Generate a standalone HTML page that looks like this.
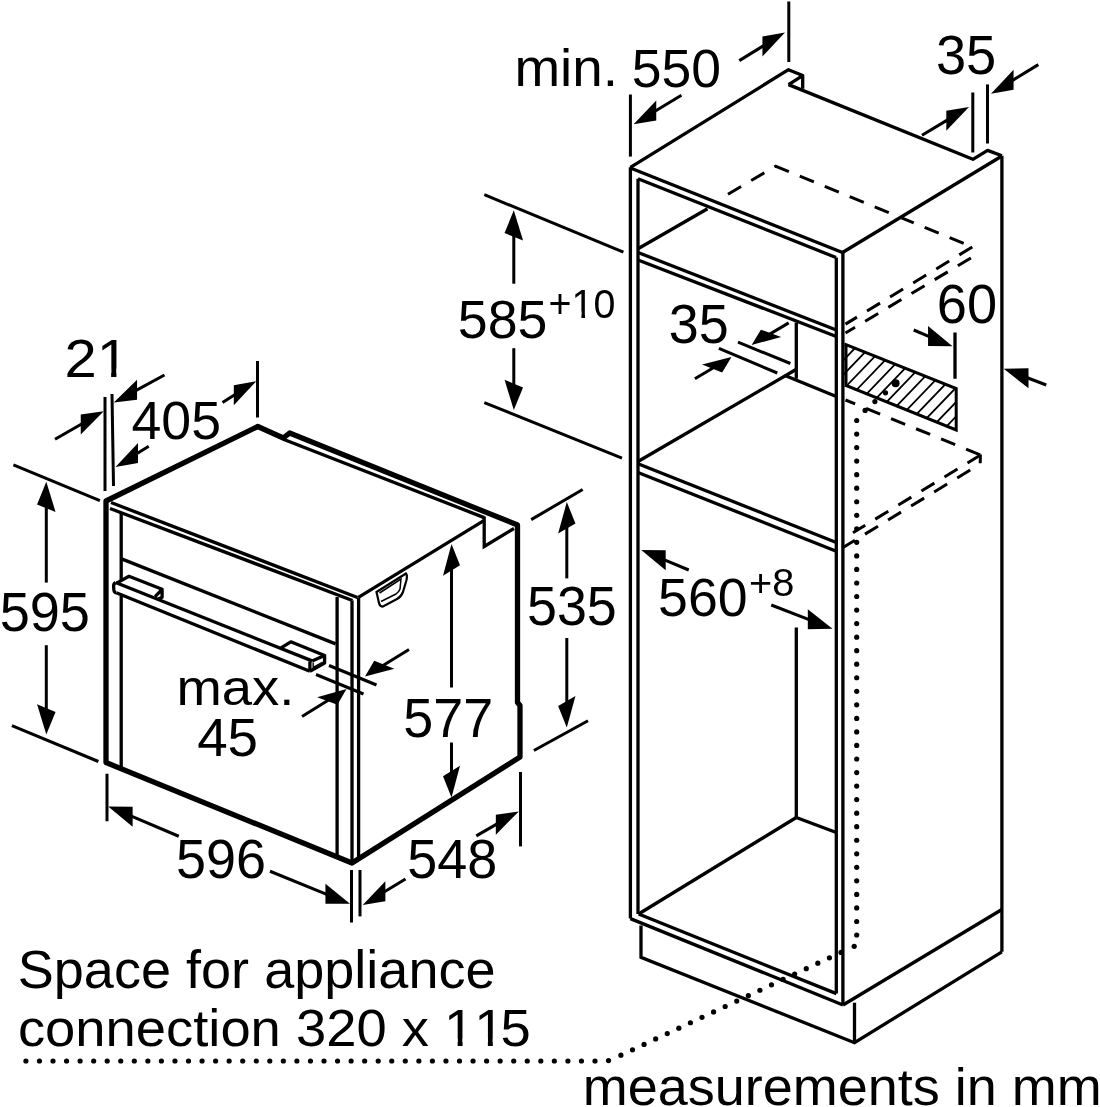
<!DOCTYPE html>
<html><head><meta charset="utf-8"><style>
html,body{margin:0;padding:0;background:#fff;}
svg{display:block;}
text{font-family:"Liberation Sans",sans-serif;fill:#000;stroke:none;}
svg{-webkit-font-smoothing:antialiased;filter:grayscale(1);}
</style></head><body>
<svg width="1100" height="1107" viewBox="0 0 1100 1107" stroke="#000" fill="none" stroke-linecap="butt">
<rect width="1100" height="1107" fill="#fff" stroke="none"/>
<path d="M106,501 L106,762.5 L352,863 L520,757 L520,705.5 L517.5,702.5 L517.5,525 L289.6,433 L283.3,438 L257.8,426.5 Z" stroke-width="5.3" fill="none" stroke-linejoin="round"/>
<line x1="111" y1="502.5" x2="357.5" y2="597.5" stroke-width="3.3"/>
<line x1="110" y1="508.5" x2="352.5" y2="600.5" stroke-width="3.3"/>
<line x1="337.1" y1="597" x2="337.1" y2="857" stroke-width="3.3"/>
<line x1="352" y1="600.5" x2="352" y2="863" stroke-width="3.3"/>
<line x1="358.6" y1="597.5" x2="358.6" y2="859" stroke-width="3.3"/>
<line x1="358.4" y1="597.3" x2="484.2" y2="520.3" stroke-width="3.3"/>
<path d="M484.2,516.5 L484.2,546.5 L514,528.5" stroke-width="3.3" fill="none"/>
<line x1="283.3" y1="439.2" x2="484.2" y2="517.6" stroke-width="3.3"/>
<line x1="121.2" y1="512" x2="121.2" y2="580" stroke-width="3.3"/>
<line x1="121.2" y1="596" x2="121.2" y2="768.5" stroke-width="3.3"/>
<line x1="121.6" y1="558.9" x2="335.6" y2="643.9" stroke-width="3.3"/>
<line x1="115.6" y1="582.5" x2="312.1" y2="660.9" stroke-width="3.3"/>
<line x1="116.3" y1="592.8" x2="309.9" y2="671.3" stroke-width="3.3"/>
<path d="M115.6,582.5 Q113.3,583.6 113.6,587 L113.9,590 Q114.3,592.6 116.3,592.8" stroke-width="3.3" fill="none"/>
<path d="M117.5,582.6 L129,576.3 L162.1,589.3 L162.1,597.3 L158,599.3 M155.1,596.6 L162.1,589.3" stroke-width="3.3" fill="none" stroke-linejoin="round"/>
<path d="M281,647.8 L290.8,641.8 L324.6,655.5 L324.6,663.1 L309.9,671.3 M309.9,661.5 L309.9,671.3 M312.1,660.9 L324.6,655.5" stroke-width="3.3" fill="none" stroke-linejoin="round"/>
<path d="M313.2,662.5 L313.2,667.3 L322.8,662" stroke-width="1.4" fill="none"/>
<path d="M376.5,592 L406,573.5 Q407.5,575 406.5,580 L403,592 Q401,597 397,599 L383,606.5 Q380,607 379,603 Z" stroke-width="2.2" fill="none"/>
<path d="M379.5,593 L401,579 L400,589 Q399,592 396,594 L381,601.5" stroke-width="1.5" fill="none"/>
<line x1="105" y1="397" x2="105" y2="491" stroke-width="3"/>
<line x1="112" y1="394" x2="113.5" y2="486" stroke-width="3"/>
<line x1="82.5" y1="423.45" x2="55" y2="439.25" stroke-width="3"/>
<path d="M103.75,411.25 L80.77,434.45 L80.77,414.45 Z" fill="#000" stroke="none"/>
<line x1="135.29" y1="390.83" x2="164.5" y2="375" stroke-width="3"/>
<path d="M113.75,402.5 L137.05,399.87 L137.05,379.87 Z" fill="#000" stroke="none"/>
<g transform="translate(64.4,376.6) scale(1.0761,1)"><text x="0 29.96" font-size="53.87">21</text><rect x="33.19" y="-8.08" width="10.23" height="10.23" fill="#fff" stroke="none"/><rect x="48.33" y="-8.08" width="9.91" height="10.23" fill="#fff" stroke="none"/></g>
<line x1="257.5" y1="361" x2="257.5" y2="417.5" stroke-width="3"/>
<line x1="235.52" y1="394.3" x2="222.5" y2="402.5" stroke-width="3"/>
<path d="M256.25,381.25 L233.82,405.37 L233.82,385.37 Z" fill="#000" stroke="none"/>
<line x1="136.28" y1="454.03" x2="148.75" y2="446.25" stroke-width="3"/>
<path d="M115.5,467 L137.98,462.97 L137.98,442.97 Z" fill="#000" stroke="none"/>
<g transform="translate(131.47,439.17) scale(1.0075,1)"><text x="0 29.61 59.23" font-size="53.25">405</text></g>
<line x1="13.4" y1="464.9" x2="99.9" y2="500.7" stroke-width="3"/>
<line x1="11.9" y1="725.7" x2="98.4" y2="761.5" stroke-width="3"/>
<line x1="46.3" y1="506.2" x2="46.3" y2="582.6" stroke-width="3"/>
<path d="M46.3,481.7 L55.55,511.99 L37.05,504.41 Z" fill="#000" stroke="none"/>
<line x1="46.3" y1="710.1" x2="46.3" y2="645.2" stroke-width="3"/>
<path d="M46.3,734.6 L55.55,711.89 L37.05,704.31 Z" fill="#000" stroke="none"/>
<g transform="translate(-0.37,631.25) scale(0.9807,1)"><text x="0 30.71 61.43" font-size="55.23">595</text></g>
<line x1="329" y1="665.5" x2="376.5" y2="685" stroke-width="3"/>
<line x1="316" y1="674.5" x2="363.5" y2="694" stroke-width="3"/>
<line x1="382.56" y1="665.73" x2="409" y2="649.5" stroke-width="3"/>
<path d="M365,676.5 L394.29,668.69 L374.23,660.67 Z" fill="#000" stroke="none"/>
<line x1="328.98" y1="699.83" x2="302" y2="716.5" stroke-width="3"/>
<path d="M346.5,689 L337.4,704.63 L317.15,697.13 Z" fill="#000" stroke="none"/>
<g transform="translate(176.41,705.49) scale(1.0768,1)"><text x="0 42.11 70.22 95.49" font-size="50.55">max.</text></g>
<g transform="translate(197.14,755.86) scale(1.0079,1)"><text x="0 30.2" font-size="54.3">45</text></g>
<line x1="451.5" y1="568.5" x2="451.5" y2="687.5" stroke-width="3"/>
<path d="M451.5,544 L460,565.23 L443,575.77 Z" fill="#000" stroke="none"/>
<line x1="451.5" y1="773" x2="451.5" y2="742.5" stroke-width="3"/>
<path d="M451.5,797.5 L460,765.73 L443,776.27 Z" fill="#000" stroke="none"/>
<g transform="translate(403.35,736.75) scale(0.9715,1)"><text x="0 30.84 61.67" font-size="55.44">577</text></g>
<line x1="531.2" y1="519.6" x2="582.7" y2="489.5" stroke-width="3"/>
<line x1="533.9" y1="750.5" x2="588" y2="720.7" stroke-width="3"/>
<line x1="566.8" y1="526.5" x2="566.8" y2="578.4" stroke-width="3"/>
<path d="M566.8,502 L575.47,523.51 L558.13,533.49 Z" fill="#000" stroke="none"/>
<line x1="566.8" y1="703" x2="566.8" y2="638" stroke-width="3"/>
<path d="M566.8,727.5 L575.47,696.01 L558.13,705.99 Z" fill="#000" stroke="none"/>
<g transform="translate(526.95,624.95) scale(0.9750,1)"><text x="0 30.71 61.43" font-size="55.23">535</text></g>
<line x1="107" y1="773.75" x2="107" y2="821.25" stroke-width="3"/>
<line x1="130.76" y1="815.95" x2="178.75" y2="836.25" stroke-width="3"/>
<path d="M108.2,806.4 L132.61,826.73 L132.61,806.73 Z" fill="#000" stroke="none"/>
<line x1="327.3" y1="894.53" x2="270" y2="871.25" stroke-width="3"/>
<path d="M350,903.75 L325.45,903.78 L325.45,883.78 Z" fill="#000" stroke="none"/>
<line x1="351.5" y1="870" x2="351.5" y2="922.5" stroke-width="3"/>
<line x1="360" y1="870" x2="360" y2="916.4" stroke-width="3"/>
<g transform="translate(176.04,877.65) scale(0.9762,1)"><text x="0 30.71 61.43" font-size="55.23">596</text></g>
<line x1="520.5" y1="772" x2="520.5" y2="846.4" stroke-width="3"/>
<line x1="497.57" y1="823.64" x2="476.3" y2="835.9" stroke-width="3"/>
<path d="M518.8,811.4 L495.84,834.63 L495.84,814.63 Z" fill="#000" stroke="none"/>
<line x1="383.64" y1="892.28" x2="405.5" y2="879" stroke-width="3"/>
<path d="M362.7,905 L385.35,901.24 L385.35,881.24 Z" fill="#000" stroke="none"/>
<g transform="translate(407.34,878.05) scale(0.9768,1)"><text x="0 30.71 61.43" font-size="55.23">548</text></g>
<line x1="630.4" y1="167.3" x2="630.4" y2="918.6" stroke-width="3.3"/>
<line x1="638" y1="178.7" x2="638" y2="914" stroke-width="3.3"/>
<path d="M630.4,167.3 L788.5,69.7 L802.7,75.5 L802.7,88.8" stroke-width="3.3" fill="none" stroke-linejoin="round"/>
<line x1="788.5" y1="84.6" x2="802.7" y2="75.7" stroke-width="3.3"/>
<path d="M788.5,84.6 L972.9,159.3 L987.6,150.4 L1001.9,155.8" stroke-width="3.3" fill="none" stroke-linejoin="round"/>
<line x1="1001.9" y1="155.8" x2="1001.9" y2="951.8" stroke-width="3.3"/>
<line x1="630.4" y1="168" x2="842.5" y2="252.5" stroke-width="3.3"/>
<line x1="638" y1="178.7" x2="836" y2="257.5" stroke-width="3.3"/>
<line x1="842.9" y1="252.5" x2="842.9" y2="1005" stroke-width="3.3"/>
<line x1="836.3" y1="257.5" x2="836.3" y2="993.6" stroke-width="3.3"/>
<line x1="842.5" y1="252.5" x2="1001.9" y2="156" stroke-width="3.3"/>
<line x1="630.4" y1="918.6" x2="843" y2="1005" stroke-width="3.3"/>
<line x1="638.6" y1="914" x2="836.4" y2="993.6" stroke-width="3.3"/>
<line x1="843" y1="1005" x2="1001.9" y2="909.5" stroke-width="3.3"/>
<path d="M641,925.5 L641,957.3 L854.5,1042.7 L1001.9,951.8" stroke-width="3.3" fill="none"/>
<line x1="854.5" y1="1002.7" x2="854.5" y2="1042.7" stroke-width="3.3"/>
<line x1="638" y1="248.75" x2="707.5" y2="208.75" stroke-width="3.3"/>
<line x1="638" y1="252.5" x2="836.3" y2="330" stroke-width="3.3"/>
<line x1="638" y1="260" x2="836.3" y2="336.5" stroke-width="3.3"/>
<line x1="796.3" y1="322.5" x2="796.3" y2="378.75" stroke-width="3.3"/>
<line x1="785" y1="375.5" x2="836.3" y2="396.5" stroke-width="3.3"/>
<line x1="796" y1="369.5" x2="638" y2="461.5" stroke-width="3.3"/>
<line x1="638" y1="463.75" x2="836.3" y2="542.5" stroke-width="3.3"/>
<line x1="638" y1="472.5" x2="836.3" y2="551.25" stroke-width="3.3"/>
<line x1="796.3" y1="627.5" x2="796.3" y2="817.5" stroke-width="3.3"/>
<line x1="796.3" y1="817.5" x2="638.6" y2="914" stroke-width="3.3"/>
<line x1="796.3" y1="817.5" x2="836.3" y2="832.5" stroke-width="3.3"/>
<line x1="728" y1="194.3" x2="775.4" y2="166.2" stroke-width="3" stroke-dasharray="15.2,11.8" stroke-dashoffset="0"/>
<line x1="774.8" y1="165.9" x2="972.3" y2="247" stroke-width="3" stroke-dasharray="15.2,11.8" stroke-dashoffset="0"/>
<line x1="972.3" y1="247" x2="845.5" y2="324.1" stroke-width="3" stroke-dasharray="15.2,11.8" stroke-dashoffset="0"/>
<line x1="970.9" y1="258" x2="845.5" y2="333" stroke-width="3" stroke-dasharray="15.2,11.8" stroke-dashoffset="0"/>
<line x1="845.5" y1="400" x2="980.5" y2="455" stroke-width="3" stroke-dasharray="15.2,11.8" stroke-dashoffset="4.8"/>
<line x1="980.5" y1="455" x2="853" y2="532.7" stroke-width="3" stroke-dasharray="15.2,11.8" stroke-dashoffset="0"/>
<line x1="970.2" y1="470" x2="842.7" y2="547.7" stroke-width="3" stroke-dasharray="15.2,11.8" stroke-dashoffset="0"/>
<line x1="980.4" y1="454.5" x2="980.2" y2="463.3" stroke-width="3"/>
<clipPath id="hc"><path d="M843,344.4 L956.2,388.5 L956.2,430 L843,385.8 Z"/></clipPath>
<path d="M752.78,440 L858.55,330 M766.68,440 L872.45,330 M780.58,440 L886.35,330 M794.48,440 L900.25,330 M808.38,440 L914.15,330 M822.28,440 L928.05,330 M836.18,440 L941.95,330 M850.08,440 L955.85,330 M863.98,440 L969.75,330 M877.88,440 L983.65,330 M891.78,440 L997.55,330 M905.68,440 L1011.45,330 M919.58,440 L1025.35,330 M933.48,440 L1039.25,330 M947.38,440 L1053.15,330 M961.28,440 L1067.05,330 M975.18,440 L1080.95,330 M989.08,440 L1094.85,330" stroke-width="1.8" clip-path="url(#hc)"/>
<path d="M846,344.6 L956.2,388.5 L956.2,430 L846,385.5 Z" stroke-width="3" fill="none"/>
<line x1="955" y1="332.5" x2="955" y2="378.75" stroke-width="3.3"/>
<line x1="929.91" y1="336.78" x2="913.75" y2="330" stroke-width="3"/>
<path d="M952.5,346.25 L928.06,346 L928.06,326 Z" fill="#000" stroke="none"/>
<line x1="1026.63" y1="377.5" x2="1046.25" y2="385" stroke-width="3"/>
<path d="M1003.75,368.75 L1028.5,388.21 L1028.5,368.21 Z" fill="#000" stroke="none"/>
<g transform="translate(936.74,322.85) scale(0.9866,1)"><text x="0 30.56" font-size="54.94">60</text></g>
<circle cx="895.6" cy="383.3" r="4" fill="#000" stroke="none"/>
<circle cx="885.5" cy="392.8" r="2.6" fill="#000" stroke="none"/>
<circle cx="874.9" cy="401.6" r="2.6" fill="#000" stroke="none"/>
<circle cx="865.1" cy="410.4" r="2.6" fill="#000" stroke="none"/>
<circle cx="856.7" cy="420.5" r="2.6" fill="#000" stroke="none"/>
<circle cx="856.7" cy="434.04" r="2.6" fill="#000" stroke="none"/>
<circle cx="856.7" cy="447.58" r="2.6" fill="#000" stroke="none"/>
<circle cx="856.7" cy="461.12" r="2.6" fill="#000" stroke="none"/>
<circle cx="856.7" cy="474.66" r="2.6" fill="#000" stroke="none"/>
<circle cx="856.7" cy="488.2" r="2.6" fill="#000" stroke="none"/>
<circle cx="856.7" cy="501.74" r="2.6" fill="#000" stroke="none"/>
<circle cx="856.7" cy="515.28" r="2.6" fill="#000" stroke="none"/>
<circle cx="856.7" cy="528.82" r="2.6" fill="#000" stroke="none"/>
<circle cx="856.7" cy="542.36" r="2.6" fill="#000" stroke="none"/>
<circle cx="856.7" cy="555.9" r="2.6" fill="#000" stroke="none"/>
<circle cx="856.7" cy="569.44" r="2.6" fill="#000" stroke="none"/>
<circle cx="856.7" cy="582.98" r="2.6" fill="#000" stroke="none"/>
<circle cx="856.7" cy="596.52" r="2.6" fill="#000" stroke="none"/>
<circle cx="856.7" cy="610.06" r="2.6" fill="#000" stroke="none"/>
<circle cx="856.7" cy="623.6" r="2.6" fill="#000" stroke="none"/>
<circle cx="856.7" cy="637.14" r="2.6" fill="#000" stroke="none"/>
<circle cx="856.7" cy="650.68" r="2.6" fill="#000" stroke="none"/>
<circle cx="856.7" cy="664.22" r="2.6" fill="#000" stroke="none"/>
<circle cx="856.7" cy="677.76" r="2.6" fill="#000" stroke="none"/>
<circle cx="856.7" cy="691.3" r="2.6" fill="#000" stroke="none"/>
<circle cx="856.7" cy="704.84" r="2.6" fill="#000" stroke="none"/>
<circle cx="856.7" cy="718.38" r="2.6" fill="#000" stroke="none"/>
<circle cx="856.7" cy="731.92" r="2.6" fill="#000" stroke="none"/>
<circle cx="856.7" cy="745.46" r="2.6" fill="#000" stroke="none"/>
<circle cx="856.7" cy="759" r="2.6" fill="#000" stroke="none"/>
<circle cx="856.7" cy="772.54" r="2.6" fill="#000" stroke="none"/>
<circle cx="856.7" cy="786.08" r="2.6" fill="#000" stroke="none"/>
<circle cx="856.7" cy="799.62" r="2.6" fill="#000" stroke="none"/>
<circle cx="856.7" cy="813.16" r="2.6" fill="#000" stroke="none"/>
<circle cx="856.7" cy="826.7" r="2.6" fill="#000" stroke="none"/>
<circle cx="856.7" cy="840.24" r="2.6" fill="#000" stroke="none"/>
<circle cx="856.7" cy="853.78" r="2.6" fill="#000" stroke="none"/>
<circle cx="856.7" cy="867.32" r="2.6" fill="#000" stroke="none"/>
<circle cx="856.7" cy="880.86" r="2.6" fill="#000" stroke="none"/>
<circle cx="856.7" cy="894.4" r="2.6" fill="#000" stroke="none"/>
<circle cx="856.7" cy="907.94" r="2.6" fill="#000" stroke="none"/>
<circle cx="856.7" cy="921.48" r="2.6" fill="#000" stroke="none"/>
<circle cx="856.7" cy="935.02" r="2.6" fill="#000" stroke="none"/>
<circle cx="854.2" cy="946.3" r="2.6" fill="#000" stroke="none"/>
<circle cx="841" cy="952.4" r="2.6" fill="#000" stroke="none"/>
<circle cx="829.42" cy="957.81" r="2.6" fill="#000" stroke="none"/>
<circle cx="817.83" cy="963.22" r="2.6" fill="#000" stroke="none"/>
<circle cx="806.25" cy="968.63" r="2.6" fill="#000" stroke="none"/>
<circle cx="794.66" cy="974.04" r="2.6" fill="#000" stroke="none"/>
<circle cx="783.08" cy="979.45" r="2.6" fill="#000" stroke="none"/>
<circle cx="771.49" cy="984.86" r="2.6" fill="#000" stroke="none"/>
<circle cx="759.91" cy="990.27" r="2.6" fill="#000" stroke="none"/>
<circle cx="748.33" cy="995.68" r="2.6" fill="#000" stroke="none"/>
<circle cx="736.74" cy="1001.09" r="2.6" fill="#000" stroke="none"/>
<circle cx="725.16" cy="1006.51" r="2.6" fill="#000" stroke="none"/>
<circle cx="713.57" cy="1011.92" r="2.6" fill="#000" stroke="none"/>
<circle cx="701.99" cy="1017.33" r="2.6" fill="#000" stroke="none"/>
<circle cx="690.41" cy="1022.74" r="2.6" fill="#000" stroke="none"/>
<circle cx="678.82" cy="1028.15" r="2.6" fill="#000" stroke="none"/>
<circle cx="667.24" cy="1033.56" r="2.6" fill="#000" stroke="none"/>
<circle cx="655.65" cy="1038.97" r="2.6" fill="#000" stroke="none"/>
<circle cx="644.07" cy="1044.38" r="2.6" fill="#000" stroke="none"/>
<circle cx="632.48" cy="1049.79" r="2.6" fill="#000" stroke="none"/>
<circle cx="620.9" cy="1055.2" r="2.6" fill="#000" stroke="none"/>
<circle cx="608.5" cy="1060.6" r="2.6" fill="#000" stroke="none"/>
<circle cx="25.9" cy="1061" r="2.6" fill="#000" stroke="none"/>
<circle cx="39.45" cy="1061" r="2.6" fill="#000" stroke="none"/>
<circle cx="53" cy="1061" r="2.6" fill="#000" stroke="none"/>
<circle cx="66.55" cy="1061" r="2.6" fill="#000" stroke="none"/>
<circle cx="80.1" cy="1061" r="2.6" fill="#000" stroke="none"/>
<circle cx="93.65" cy="1061" r="2.6" fill="#000" stroke="none"/>
<circle cx="107.2" cy="1061" r="2.6" fill="#000" stroke="none"/>
<circle cx="120.75" cy="1061" r="2.6" fill="#000" stroke="none"/>
<circle cx="134.3" cy="1061" r="2.6" fill="#000" stroke="none"/>
<circle cx="147.85" cy="1061" r="2.6" fill="#000" stroke="none"/>
<circle cx="161.4" cy="1061" r="2.6" fill="#000" stroke="none"/>
<circle cx="174.95" cy="1061" r="2.6" fill="#000" stroke="none"/>
<circle cx="188.5" cy="1061" r="2.6" fill="#000" stroke="none"/>
<circle cx="202.05" cy="1061" r="2.6" fill="#000" stroke="none"/>
<circle cx="215.6" cy="1061" r="2.6" fill="#000" stroke="none"/>
<circle cx="229.15" cy="1061" r="2.6" fill="#000" stroke="none"/>
<circle cx="242.7" cy="1061" r="2.6" fill="#000" stroke="none"/>
<circle cx="256.25" cy="1061" r="2.6" fill="#000" stroke="none"/>
<circle cx="269.8" cy="1061" r="2.6" fill="#000" stroke="none"/>
<circle cx="283.35" cy="1061" r="2.6" fill="#000" stroke="none"/>
<circle cx="296.9" cy="1061" r="2.6" fill="#000" stroke="none"/>
<circle cx="310.45" cy="1061" r="2.6" fill="#000" stroke="none"/>
<circle cx="324" cy="1061" r="2.6" fill="#000" stroke="none"/>
<circle cx="337.55" cy="1061" r="2.6" fill="#000" stroke="none"/>
<circle cx="351.1" cy="1061" r="2.6" fill="#000" stroke="none"/>
<circle cx="364.65" cy="1061" r="2.6" fill="#000" stroke="none"/>
<circle cx="378.2" cy="1061" r="2.6" fill="#000" stroke="none"/>
<circle cx="391.75" cy="1061" r="2.6" fill="#000" stroke="none"/>
<circle cx="405.3" cy="1061" r="2.6" fill="#000" stroke="none"/>
<circle cx="418.85" cy="1061" r="2.6" fill="#000" stroke="none"/>
<circle cx="432.4" cy="1061" r="2.6" fill="#000" stroke="none"/>
<circle cx="445.95" cy="1061" r="2.6" fill="#000" stroke="none"/>
<circle cx="459.5" cy="1061" r="2.6" fill="#000" stroke="none"/>
<circle cx="473.05" cy="1061" r="2.6" fill="#000" stroke="none"/>
<circle cx="486.6" cy="1061" r="2.6" fill="#000" stroke="none"/>
<circle cx="500.15" cy="1061" r="2.6" fill="#000" stroke="none"/>
<circle cx="513.7" cy="1061" r="2.6" fill="#000" stroke="none"/>
<circle cx="527.25" cy="1061" r="2.6" fill="#000" stroke="none"/>
<circle cx="540.8" cy="1061" r="2.6" fill="#000" stroke="none"/>
<circle cx="554.35" cy="1061" r="2.6" fill="#000" stroke="none"/>
<circle cx="567.9" cy="1061" r="2.6" fill="#000" stroke="none"/>
<circle cx="581.45" cy="1061" r="2.6" fill="#000" stroke="none"/>
<circle cx="595" cy="1061" r="2.6" fill="#000" stroke="none"/>
<line x1="630.4" y1="94.5" x2="630.4" y2="156.6" stroke-width="3"/>
<line x1="654.55" y1="111.59" x2="681.4" y2="95.3" stroke-width="3"/>
<path d="M633.6,124.3 L656.26,120.55 L656.26,100.55 Z" fill="#000" stroke="none"/>
<line x1="788.8" y1="1.5" x2="788.8" y2="62" stroke-width="3"/>
<line x1="764.13" y1="45.33" x2="739.3" y2="60.6" stroke-width="3"/>
<path d="M785,32.5 L762.43,56.38 L762.43,36.38 Z" fill="#000" stroke="none"/>
<g transform="translate(514.38,86) scale(1.0748,1)"><text x="0 42.51 53.85 82.23" font-size="51.03">min.</text></g>
<g transform="translate(631.86,86.86) scale(0.9863,1)"><text x="0 30.16 60.33" font-size="54.24">550</text></g>
<line x1="972.8" y1="92.5" x2="972.8" y2="152.5" stroke-width="3"/>
<line x1="987.5" y1="84.4" x2="987.5" y2="143.5" stroke-width="3"/>
<line x1="948.01" y1="119.64" x2="922" y2="135.3" stroke-width="3"/>
<path d="M969,107 L946.3,130.67 L946.3,110.67 Z" fill="#000" stroke="none"/>
<line x1="1011.87" y1="80.86" x2="1038.3" y2="64.6" stroke-width="3"/>
<path d="M991,93.7 L1013.57,89.81 L1013.57,69.81 Z" fill="#000" stroke="none"/>
<g transform="translate(935.94,73.75) scale(0.9826,1)"><text x="0 30.71" font-size="55.23">35</text></g>
<line x1="484.3" y1="194.7" x2="623.4" y2="252.1" stroke-width="3"/>
<line x1="484.3" y1="402.6" x2="622" y2="458.2" stroke-width="3"/>
<line x1="513.8" y1="234.8" x2="513.8" y2="283.7" stroke-width="3"/>
<path d="M513.8,210.3 L523.05,240.59 L504.55,233.01 Z" fill="#000" stroke="none"/>
<line x1="513.8" y1="385.6" x2="513.8" y2="348.2" stroke-width="3"/>
<path d="M513.8,410.1 L523.05,387.39 L504.55,379.81 Z" fill="#000" stroke="none"/>
<g transform="translate(457.85,338.15) scale(0.9842,1)"><text x="0 30.32 60.64" font-size="54.52">585</text></g>
<g transform="translate(548.57,317.5) scale(0.9745,1)"><text x="0 23.59 46.06" font-size="40.4">+10</text><rect x="26.01" y="-6.06" width="7.68" height="7.68" fill="#fff" stroke="none"/><rect x="37.37" y="-6.06" width="7.43" height="7.68" fill="#fff" stroke="none"/></g>
<line x1="738" y1="342.2" x2="790.4" y2="363.5" stroke-width="3"/>
<line x1="718.9" y1="348.4" x2="777.3" y2="373" stroke-width="3"/>
<line x1="769.32" y1="334.39" x2="788.7" y2="322.9" stroke-width="3"/>
<path d="M751.6,344.9 L781.2,337.03 L760.88,329.71 Z" fill="#000" stroke="none"/>
<line x1="713.8" y1="367.44" x2="694.9" y2="378.7" stroke-width="3"/>
<path d="M731.5,356.9 L722.15,372.39 L702.02,364.54 Z" fill="#000" stroke="none"/>
<g transform="translate(668.85,342.94) scale(0.9706,1)"><text x="0 30.87" font-size="55.51">35</text></g>
<line x1="663.83" y1="559.51" x2="688.75" y2="570" stroke-width="3"/>
<path d="M641.25,550 L665.67,570.28 L665.67,550.28 Z" fill="#000" stroke="none"/>
<line x1="809.66" y1="619.89" x2="771.25" y2="605" stroke-width="3"/>
<path d="M832.5,628.75 L807.79,629.17 L807.79,609.17 Z" fill="#000" stroke="none"/>
<g transform="translate(658.05,616.06) scale(0.9949,1)"><text x="0 30.01 60.01" font-size="53.95">560</text></g>
<g transform="translate(748.95,595.71) scale(1.0073,1)"><text x="0 23.01" font-size="39.41">+8</text></g>
<g transform="translate(17.71,987.95) scale(1.0088,1)"><text x="0 35.74 65.55 95.35 122.15 151.95 166.84 181.73 211.54 229.38 244.27 274.08 303.88 333.69 345.59 357.5 387.3 417.11 443.9" font-size="53.59">Space&#160;for&#160;appliance</text></g>
<g transform="translate(17.92,1046.27) scale(1.0351,1)"><text x="0 26.26 55.47 84.67 113.88 143.09 169.35 183.94 195.61 224.81 254.02 268.61 297.82 327.03 356.24 370.83 397.08 411.68 440.88 466.19" font-size="52.52">connection&#160;320&#160;x&#160;115</text><rect x="414.83" y="-7.88" width="9.98" height="9.98" fill="#fff" stroke="none"/><rect x="429.58" y="-7.88" width="9.66" height="9.98" fill="#fff" stroke="none"/><rect x="444.03" y="-7.88" width="9.98" height="9.98" fill="#fff" stroke="none"/><rect x="458.79" y="-7.88" width="9.66" height="9.98" fill="#fff" stroke="none"/></g>
<g transform="translate(582.84,1104.97) scale(1.0251,1)"><text x="0 43.86 73.14 102.43 128.75 158.04 175.57 204.85 248.72 278 307.28 321.91 348.24 362.87 374.56 403.85 418.48 462.34" font-size="52.65">measurements&#160;in&#160;mm</text></g>
</svg>
</body></html>
